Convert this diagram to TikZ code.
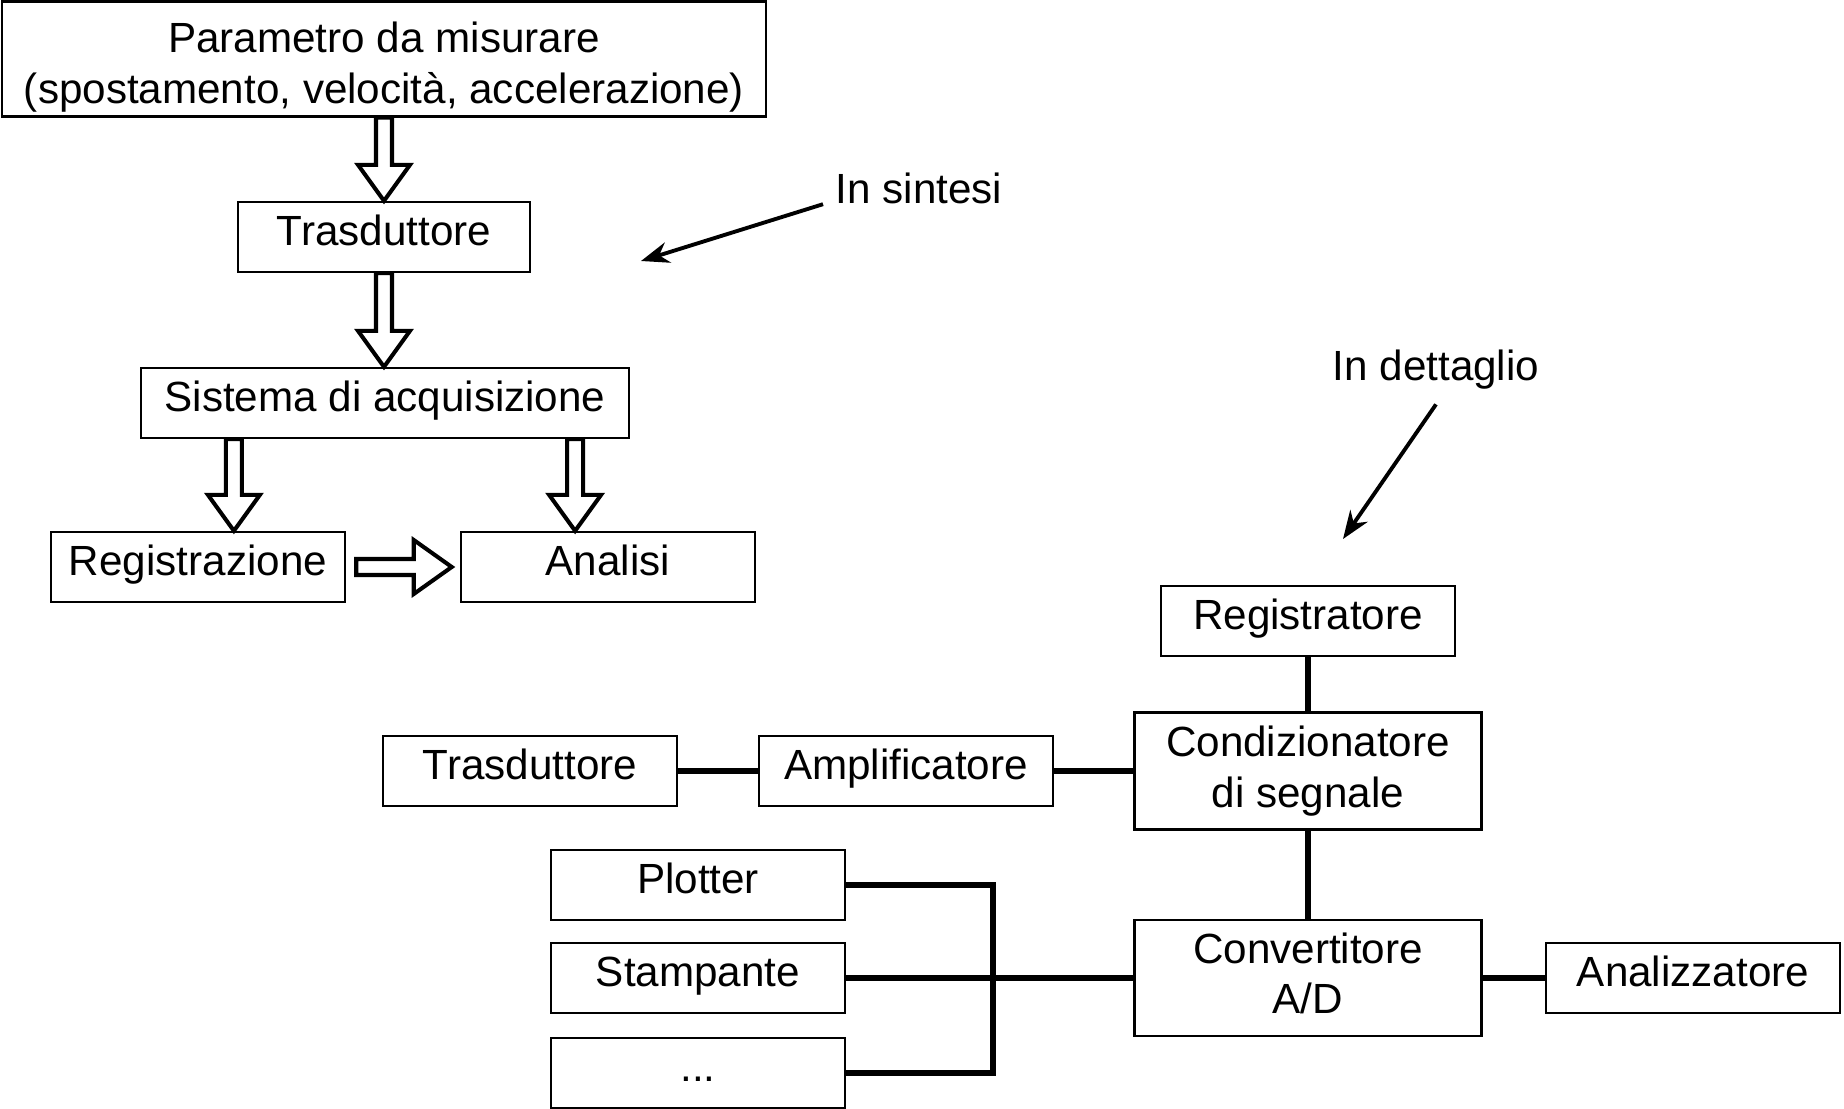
\documentclass[tikz,border=0pt]{standalone}
\usepackage{fontspec}
\setmainfont{Liberation Sans}
\usetikzlibrary{arrows.meta,calc}

\newcommand{\fatdown}[2]{%
  \draw[hollow] let \p1=(#1), \p2=(#2) in
    (\x1-0.08cm,\y1) -- (\x1-0.08cm,\y2+0.36cm) -- (\x1-0.26cm,\y2+0.36cm)
    -- (\x1,\y2) -- (\x1+0.26cm,\y2+0.36cm) -- (\x1+0.08cm,\y2+0.36cm)
    -- (\x1+0.08cm,\y1) -- cycle;}
\newcommand{\fatright}[2]{%
  \draw[hollow] let \p1=(#1), \p2=(#2) in
    (\x1,\y1-0.08cm) -- (\x2-0.38cm,\y1-0.08cm) -- (\x2-0.38cm,\y1-0.27cm)
    -- (\x2,\y1) -- (\x2-0.38cm,\y1+0.27cm) -- (\x2-0.38cm,\y1+0.08cm)
    -- (\x1,\y1+0.08cm) -- cycle;}

\begin{document}
\begin{tikzpicture}[x=0.01cm,y=-0.01cm,font=\fontsize{12}{14.4}\selectfont,
  box/.style={draw,line width=0.65pt,inner sep=0pt,minimum width=2.94cm,minimum height=0.7cm,align=center},
  onebox/.style={box,text height=8.8pt,text depth=4.2pt},
  wire/.style={line width=1.6pt},
  hollow/.style={draw,fill=white,line width=1.15pt,line join=miter},
  note/.style={line width=1.1pt,-{Stealth[length=8pt,width=6pt]}}]
\useasboundingbox (0,0) rectangle (1844,1109);
\node[box,minimum width=7.64cm,minimum height=1.15cm] (param) at (384,59) {\rule{0pt}{13.4pt}Parametro da misurare\\(spostamento, velocità, accelerazione)};
\node[onebox,minimum width=2.92cm] (trasd) at (384,237) {Trasduttore};
\node[onebox,minimum width=4.88cm] (sist) at (385,403) {Sistema di acquisizione};
\node[onebox] (regz) at (198,567) {Registrazione};
\node[onebox] (anal) at (608,567) {Analisi};
\fatdown{param.south}{trasd.north}
\fatdown{trasd.south}{sist.north}
\coordinate (s1) at ([xshift=-1.51cm]sist.south);
\coordinate (s2) at ([xshift=1.9cm]sist.south);
\fatdown{s1}{s1 |- regz.north}
\fatdown{s2}{s2 |- anal.north}
\fatright{[xshift=0.1cm]regz.east}{[xshift=-0.08cm]anal.west}
\node[inner sep=0pt] (sint) at (919,188) {In sintesi};
\coordinate (sintTip) at (641,261);
\draw[note] ([xshift=-0.12cm]sint.south west) -- (sintTip);
\node[inner sep=0pt] (dett) at (1436,370) {In dettaglio};
\coordinate (dettTip) at (1343,539);
\draw[note] ([yshift=-0.14cm]dett.south) -- (dettTip);
\node[onebox] (regt) at (1308,621) {Registratore};
\node[box,minimum width=3.47cm,minimum height=1.17cm] (cond) at (1308,771) {Condizionatore\\di segnale};
\node[onebox] (trd) at (530,771) {Trasduttore};
\node[onebox] (ampl) at (906,771) {Amplificatore};
\node[box,minimum width=3.47cm,minimum height=1.16cm] (conv) at (1308,978) {Convertitore\\A/D\rule[-2.7pt]{0pt}{0pt}};
\node[onebox] (anz) at (1693,978) {Analizzatore};
\node[onebox] (plot) at (698,885) {Plotter};
\node[onebox] (stmp) at (698,978) {Stampante};
\node[onebox] (dots) at (698,1073) {...};
\coordinate (bus) at (993,0);
\draw[wire] (regt.south) -- (cond.north);
\draw[wire] (cond.south) -- (conv.north);
\draw[wire] (trd.east) -- (ampl.west);
\draw[wire] (ampl.east) -- (cond.west);
\draw[wire] (conv.east) -- (anz.west);
\draw[wire] (stmp.east) -- (conv.west);
\draw[wire] (plot.east) -- (plot.east -| bus) -- (dots.east -| bus) -- (dots.east);
\end{tikzpicture}
\end{document}
